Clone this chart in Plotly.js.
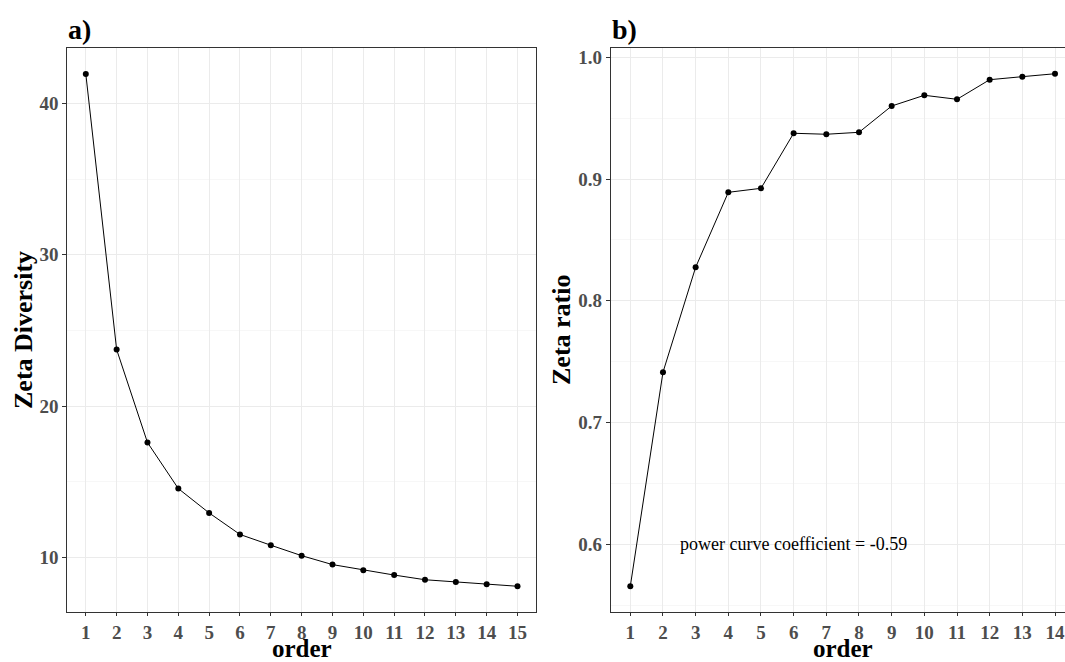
<!DOCTYPE html>
<html>
<head>
<meta charset="utf-8">
<script src="https://cdn.plot.ly/plotly-3.0.1.min.js"></script>
<style>
  html, body { margin: 0; padding: 0; background: #fff; }
  #chart { width: 1065px; height: 662px; }
</style>
</head>
<body>
<div id="chart"></div>
<script>
// ---- data ----
const orderA = [1, 2, 3, 4, 5, 6, 7, 8, 9, 10, 11, 12, 13, 14, 15];
const zetaDiversity = [41.94, 23.74, 17.6, 14.56, 12.95, 11.53, 10.82, 10.13, 9.54, 9.17, 8.85, 8.54, 8.39, 8.24, 8.11];
const orderB = [1, 2, 3, 4, 5, 6, 7, 8, 9, 10, 11, 12, 13, 14];
const zetaRatio = [0.5655, 0.7413, 0.8275, 0.8891, 0.8924, 0.9376, 0.9368, 0.9384, 0.9600, 0.9688, 0.9655, 0.9816, 0.9841, 0.9865];
const panelLabels = ["a)", "b)"];
const yTitles = ["Zeta Diversity", "Zeta ratio"];
const xTitle = "order";
const coefText = "power curve coefficient = -0.59";

const W = 1065, H = 662;
const serif = "Liberation Serif, Times New Roman, serif";
const px = v => v / W;
const py = v => 1 - v / H;

const lineStyle = {color: "#000000", width: 1};
const markerStyle = {color: "#000000", size: 6};

const traces = [
  {x: orderA, y: zetaDiversity, xaxis: "x", yaxis: "y", type: "scatter", mode: "lines+markers",
   line: lineStyle, marker: markerStyle, hoverinfo: "x+y"},
  {x: orderB, y: zetaRatio, xaxis: "x2", yaxis: "y2", type: "scatter", mode: "lines+markers",
   line: lineStyle, marker: markerStyle, hoverinfo: "x+y"}
];

const tickFont = {family: serif, size: 19, color: "#4D4D4D", weight: "bold"};
const axisCommon = {
  showline: true, linecolor: "#333333", linewidth: 1,
  ticks: "outside", ticklen: 3, tickwidth: 1, tickcolor: "#333333",
  tickfont: tickFont, showgrid: true, gridcolor: "#EBEBEB", gridwidth: 1,
  zeroline: false, automargin: false
};

const layout = {
  width: W, height: H,
  margin: {l: 0, r: 0, t: 0, b: 0},
  paper_bgcolor: "#ffffff", plot_bgcolor: "#ffffff",
  showlegend: false,
  xaxis: Object.assign({}, axisCommon, {
    domain: [px(67.3), px(536)], range: [0.4, 15.6], tickmode: "array",
    tickvals: orderA, ticktext: orderA.map(String), mirror: true, anchor: "y"
  }),
  yaxis: Object.assign({}, axisCommon, {
    domain: [py(611.7), py(48.3)], range: [6.43, 43.63], tickvals: [10, 20, 30, 40],
    tickmode: "array", mirror: true, anchor: "x", ticklen: 4,
    minor: {tickvals: [5, 15, 25, 35, 45], showgrid: true, gridcolor: "#F2F2F2", gridwidth: 0.6, ticks: ""}
  }),
  xaxis2: Object.assign({}, axisCommon, {
    domain: [px(610.7), 1], range: [0.4, 14.306], tickmode: "array",
    tickvals: orderB, ticktext: orderB.map(String), mirror: true, anchor: "y2"
  }),
  yaxis2: Object.assign({}, axisCommon, {
    domain: [py(611.7), py(48.3)], range: [0.5446, 1.0074], tickmode: "array",
    tickvals: [0.6, 0.7, 0.8, 0.9, 1.0], ticktext: ["0.6", "0.7", "0.8", "0.9", "1.0"],
    mirror: false, anchor: "x2", ticklen: 4,
    minor: {tickvals: [0.55, 0.65, 0.75, 0.85, 0.95], showgrid: true, gridcolor: "#F2F2F2", gridwidth: 0.6, ticks: ""}
  }),
  annotations: [
    {text: panelLabels[0], xref: "paper", yref: "paper", x: px(66), y: py(29), xanchor: "left", yanchor: "middle",
     showarrow: false, font: {family: serif, size: 28, color: "#000", weight: "bold"}},
    {text: panelLabels[1], xref: "paper", yref: "paper", x: px(610), y: py(29), xanchor: "left", yanchor: "middle",
     showarrow: false, font: {family: serif, size: 28, color: "#000", weight: "bold"}},
    {text: yTitles[0], xref: "paper", yref: "paper", x: px(23), y: py(330), xanchor: "center", yanchor: "middle",
     textangle: -90, showarrow: false, font: {family: serif, size: 26, color: "#000", weight: "bold"}},
    {text: yTitles[1], xref: "paper", yref: "paper", x: px(561), y: py(330), xanchor: "center", yanchor: "middle",
     textangle: -90, showarrow: false, font: {family: serif, size: 26, color: "#000", weight: "bold"}},
    {text: xTitle, xref: "paper", yref: "paper", x: px(301.6), y: py(663), xanchor: "center", yanchor: "bottom",
     showarrow: false, borderpad: 0, font: {family: serif, size: 25, color: "#000", weight: "bold"}},
    {text: xTitle, xref: "paper", yref: "paper", x: px(842.6), y: py(663), xanchor: "center", yanchor: "bottom",
     showarrow: false, borderpad: 0, font: {family: serif, size: 25, color: "#000", weight: "bold"}},
    {text: coefText, xref: "x2", yref: "y2", x: 6, y: 0.6, xanchor: "center", yanchor: "middle",
     showarrow: false, font: {family: serif, size: 18, color: "#000"}}
  ]
};

Plotly.newPlot("chart", traces, layout, {displayModeBar: false, staticPlot: true});
</script>
</body>
</html>
